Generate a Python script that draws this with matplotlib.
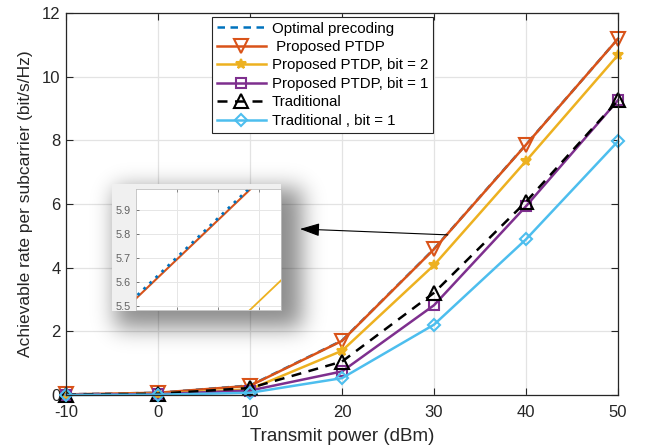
import numpy as np
import matplotlib
matplotlib.use('Agg')
import matplotlib.pyplot as plt
from matplotlib.patches import Rectangle, FancyArrowPatch

# ---------------- data ----------------
power = [-10, 0, 10, 20, 30, 40, 50]
optimal = [0.02, 0.07, 0.30, 1.71, 4.588, 7.868, 11.19]
proposed = [0.02, 0.07, 0.29, 1.70, 4.58, 7.86, 11.19]
proposed_bit2 = [0.01, 0.04, 0.18, 1.39, 4.08, 7.35, 10.68]
proposed_bit1 = [0.01, 0.03, 0.14, 0.74, 2.82, 5.93, 9.26]
traditional = [0.01, 0.04, 0.22, 1.05, 3.21, 6.07, 9.26]
traditional_bit1 = [0.00, 0.01, 0.07, 0.53, 2.21, 4.89, 7.97]

labels = ['Optimal precoding', ' Proposed PTDP', 'Proposed PTDP, bit = 2',
          'Proposed PTDP, bit = 1', 'Traditional', 'Traditional , bit = 1']
xticks = [-10, 0, 10, 20, 30, 40, 50]
yticks = [0, 2, 4, 6, 8, 10, 12]
inset_yticks = [5.5, 5.6, 5.7, 5.8, 5.9]

plt.rcParams['font.family'] = ['Liberation Sans', 'DejaVu Sans']
plt.rcParams['axes.unicode_minus'] = False

W, H = 651, 446
fig = plt.figure(figsize=(W / 100, H / 100), dpi=100)
fig.patch.set_facecolor('white')

ax = fig.add_axes([66 / W, (H - 395) / H, 552 / W, 382 / H], zorder=0)

styles = [
    dict(color='#0072BD', ls=(0, (3, 2.2)), marker=None, lw=1.8),
    dict(color='#D95319', ls='-', marker='v', ms=9.5, mfc='none', mew=1.5, lw=1.8),
    dict(color='#EDB120', ls='-', marker='*', ms=7.5, mfc='#EDB120', mew=1.5, lw=1.8),
    dict(color='#7E2F8E', ls='-', marker='s', ms=6.5, mfc='none', mew=1.5, lw=1.8),
    dict(color='black', ls=(0, (4, 3)), marker='^', ms=9.5, mfc='none', mew=1.5, lw=1.8),
    dict(color='#4DBEEE', ls='-', marker='D', ms=6.5, mfc='none', mew=1.5, lw=1.8),
]
series = [optimal, proposed, proposed_bit2, proposed_bit1, traditional, traditional_bit1]

for vals, lab, st in zip(series, labels, styles):
    kw = dict(color=st['color'], linestyle=st['ls'], linewidth=st['lw'], label=lab, clip_on=False)
    if st['marker']:
        kw.update(marker=st['marker'], markersize=st['ms'], markerfacecolor=st['mfc'],
                  markeredgewidth=st['mew'], markeredgecolor=st['color'])
    ax.plot(power, vals, **kw)

ax.set_xlim(-10, 50)
ax.set_ylim(0, 12)
ax.set_xticks(xticks)
ax.set_yticks(yticks)
ax.grid(True, color='#e3e3e3', linewidth=0.9)
ax.set_axisbelow(True)
ax.tick_params(direction='in', top=True, right=True, labelsize=12, colors='#262626',
               length=5, width=0.8)
ax.tick_params(axis='x', pad=7)
ax.tick_params(axis='y', pad=4)
for sp in ax.spines.values():
    sp.set_color('#262626')
    sp.set_linewidth(0.9)
ax.set_xlabel('Transmit power (dBm)', fontsize=13.5, color='#262626', labelpad=6)
ax.set_ylabel('Achievable rate per subcarrier (bit/s/Hz)', fontsize=12.5, color='#262626', labelpad=6)

leg = ax.legend(loc='upper left', bbox_to_anchor=((212 - 66) / 552, (395 - 17) / 382),
                borderaxespad=0, fontsize=10.8, handlelength=3.3, handletextpad=0.4,
                labelspacing=0.3, borderpad=0.3, fancybox=False, framealpha=1,
                edgecolor='#262626')
leg.get_frame().set_linewidth(0.8)

# ---------------- shadow behind inset ----------------
def blur1d(n, a, b, s):
    idx = np.arange(n)
    step = ((idx >= a) & (idx < b)).astype(float)
    k = np.exp(-0.5 * (np.arange(-50, 51) / s) ** 2)
    k /= k.sum()
    return np.convolve(step, k, mode='same')

fx = blur1d(W, 115, 302, 11)
fy = blur1d(H, 188, 328, 11)
alpha = 0.45 * np.outer(fy, fx)
img = np.zeros((H, W, 4))
img[..., 3] = alpha
fig.figimage(img, xo=0, yo=0, origin='upper', zorder=1)

fig.add_artist(Rectangle((112 / W, (H - 311) / H), 169 / W, 127 / H, transform=fig.transFigure,
                         facecolor='#f0f0f0', edgecolor='none', zorder=1.5))

ins = fig.add_axes([136 / W, (H - 310) / H, 145 / W, 121 / H], zorder=2)
ins.plot(power, proposed, color='#D95319', linewidth=1.5)
ins.plot(power, optimal, color='#0072BD', linewidth=2.0, linestyle=(0, (1.0, 2.0)))
ins.plot(power, proposed_bit2, color='#EDB120', linewidth=1.3)
ins.set_xlim(32.9, 34.67)
ins.set_ylim(5.483, 5.99)
ins.set_xticks([33.4, 33.9, 34.4])
ins.set_yticks(inset_yticks)
ins.set_yticklabels(['%.1f' % v for v in inset_yticks])
ins.tick_params(axis='x', labelbottom=False, direction='in', top=True, bottom=True,
                length=2.5, width=0.6, colors='#777777')
ins.tick_params(axis='y', direction='in', left=True, right=False, length=2.5, width=0.6,
                labelsize=7.8, colors='#606060', pad=4)
ins.grid(True, color='#e6e6e6', linewidth=0.7)
ins.set_axisbelow(True)
for sp in ins.spines.values():
    sp.set_color('#bfbfbf')
    sp.set_linewidth(0.6)

arrow = FancyArrowPatch(posA=(31.5, 5.03), posB=(15.43, 5.215), transform=ax.transData,
                        arrowstyle='-|>,head_length=0.6,head_width=0.2', mutation_scale=20,
                        color='black', linewidth=0.8, zorder=3, shrinkA=0, shrinkB=0)
fig.add_artist(arrow)

fig.savefig('out.png', dpi=100)
